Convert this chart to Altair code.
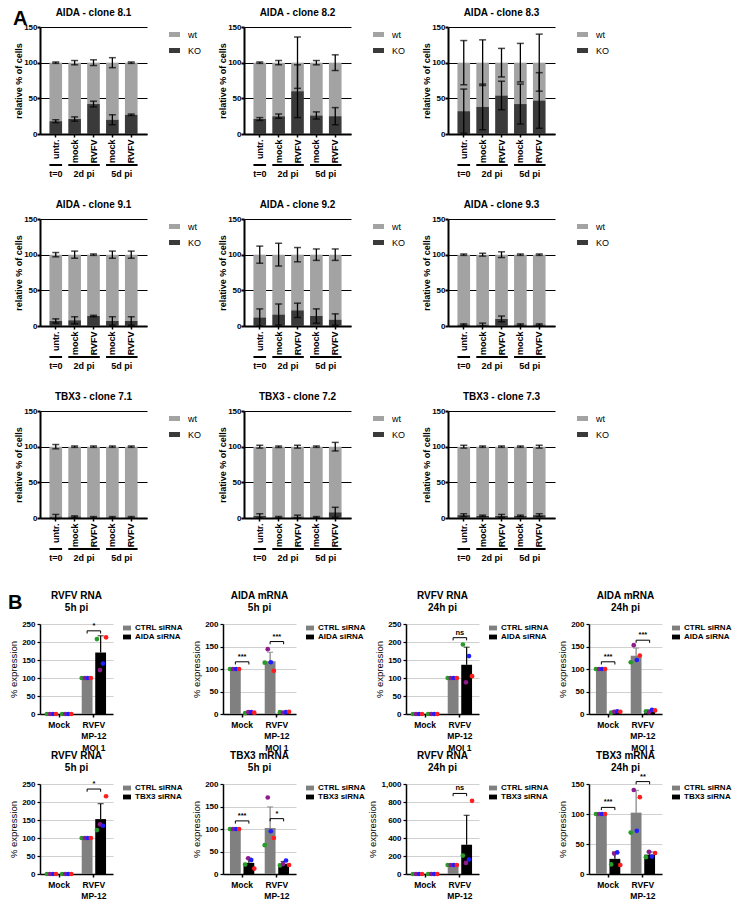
import altair as alt
import pandas as pd

FONT = "Liberation Sans"
WT_COLOR = "#a3a3a3"
KO_COLOR = "#3a3a3a"
CTRL_COLOR = "#808080"
KD_COLOR = "#000000"

# ---------------- Panel A data ----------------
A_titles = ["AIDA - clone 8.1", "AIDA - clone 8.2", "AIDA - clone 8.3",
            "AIDA - clone 9.1", "AIDA - clone 9.2", "AIDA - clone 9.3",
            "TBX3 - clone 7.1", "TBX3 - clone 7.2", "TBX3 - clone 7.3"]
A_conditions = ["untr.", "mock", "RVFV", "mock", "RVFV"]
A_timepoints = ["0", "2", "2", "5", "5"]
A_groups = ["t=0", "2d pi", "5d pi"]
A_group_first = ["untr._0", "mock_2", "mock_5"]
A_group_last = ["untr._0", "RVFV_2", "RVFV_5"]
A_group_size = [1, 2, 2]
A_ko_mean = [
    [18, 21, 42, 20, 27],
    [21, 25, 60, 26, 25],
    [32, 38, 54, 42, 47],
    [7, 8, 14, 7, 7],
    [12, 16, 22, 14, 9],
    [2, 2, 10, 2, 2],
    [2, 2, 1, 1, 1],
    [3, 1, 2, 1, 8],
    [4, 3, 3, 3, 4],
]
A_ko_err = [
    [2, 3, 4, 7, 1],
    [2, 3, 37, 5, 12],
    [31, 32, 20, 28, 39],
    [3, 5, 1, 6, 6],
    [12, 15, 10, 10, 8],
    [1, 2, 4, 1, 1],
    [3, 1, 1, 1, 1],
    [3, 1, 2, 1, 7],
    [2, 1, 2, 1, 2],
]
A_wt_err = [
    [1, 3, 4, 7, 1],
    [1, 3, 36, 3, 11],
    [31, 32, 20, 27, 40],
    [3, 5, 1, 5, 5],
    [12, 16, 10, 8, 8],
    [1, 2, 4, 1, 1],
    [3, 1, 1, 1, 1],
    [2, 1, 2, 1, 6],
    [2, 1, 1, 1, 2],
]

# ---------------- Panel B data ----------------
B_titles = [["RVFV RNA", "5h pi"], ["AIDA mRNA", "5h pi"], ["RVFV RNA", "24h pi"], ["AIDA mRNA", "24h pi"],
            ["RVFV RNA", "5h pi"], ["TBX3 mRNA", "5h pi"], ["RVFV RNA", "24h pi"], ["TBX3 mRNA", "24h pi"]]
B_kd_names = ["AIDA siRNA"] * 4 + ["TBX3 siRNA"] * 4
B_ymax = [250, 200, 250, 200, 250, 200, 1000, 150]
B_ystep = [50, 50, 50, 50, 50, 50, 200, 50]
B_groups = ["Mock", "RVFV|MP-12|MOI 1"]
B_reps = ["green", "purple", "blue", "red"]
B_rep_colors = ["#2a9a2a", "#8e1b8e", "#1e1eff", "#ff1e1e"]
B_mock_ctrl = [[0, 0, 0, 0], [100, 100, 100, 100], [0, 0, 0, 0], [100, 100, 100, 100],
               [0, 0, 0, 0], [100, 100, 100, 100], [0, 0, 0, 0], [100, 100, 100, 100]]
B_mock_kd = [[0, 0, 0, 0], [2, 4, 4, 3], [0, 0, 0, 0], [3, 5, 6, 5],
             [0, 0, 0, 0], [21, 35, 31, 12], [0, 0, 0, 0], [16, 34, 36, 15]]
B_rvfv_ctrl = [[100, 100, 100, 100], [114, 144, 115, 96], [100, 100, 100, 100], [115, 153, 120, 130],
               [100, 100, 100, 100], [64, 170, 95, 80], [100, 100, 100, 100], [69, 140, 72, 128]]
B_rvfv_kd = [[208, 122, 140, 213], [4, 3, 4, 5], [193, 88, 161, 105], [6, 4, 9, 8],
             [122, 138, 134, 216], [19, 22, 30, 20], [205, 123, 160, 813], [28, 37, 29, 35]]
B_sig_groups = [["RVFV"], ["Mock", "RVFV"], ["RVFV"], ["Mock", "RVFV"],
                ["RVFV"], ["Mock", "RVFV"], ["RVFV"], ["Mock", "RVFV"]]
B_sig_y = [[231], [116, 161], [212], [116, 164], [236], [118, 123], [895], [111, 154]]
B_sig_text = [["*"], ["***", "***"], ["ns"], ["***", "***"], ["*"], ["***", "*"], ["ns"], ["***", "**"]]

# ---------------- Panel A charts ----------------
AW, AH = 107, 107
A_PI, A_PO = 0.33, 0.5
A_ids = [c + "_" + t for c, t in zip(A_conditions, A_timepoints)]
A_STEP = AW / (len(A_ids) - A_PI + 2 * A_PO)
A_PAIR_DX = A_STEP * A_PI / 2
A_SYMBOL = "M-1,-0.45H1V0.45H-1Z"
B_SYMBOL = "M-1,-0.6H1V0.6H-1Z"

A_XAXIS = alt.Axis(labelAngle=-90, labelExpr="split(datum.value, '_')[0]", labelFontSize=9,
                   labelFontWeight="bold", labelColor="black", labelPadding=2, labelOverlap=False,
                   tickSize=3, tickWidth=1.5, tickColor="black", domainColor="black", domainWidth=2,
                   grid=False, title=None)
A_YAXIS = alt.Axis(values=[0, 50, 100, 150], grid=True, gridColor="black", gridWidth=1,
                   domainColor="black", domainWidth=2, tickColor="black", tickWidth=2, tickSize=3,
                   labelFontSize=8, labelFontWeight="bold", labelColor="black", labelPadding=0,
                   title="relative % of cells", titleFontSize=9, titleFontWeight="bold",
                   titleColor="black", titlePadding=0)


def a_x(field, bp=None):
    kw = {}
    if bp is not None:
        kw["bandPosition"] = bp
    return alt.X(f"{field}:N", scale=alt.Scale(domain=A_ids, paddingInner=A_PI, paddingOuter=A_PO),
                 axis=A_XAXIS, **kw)


def a_y(field):
    return alt.Y(f"{field}:Q", scale=alt.Scale(domain=[0, 150], nice=False), axis=A_YAXIS)


def text_layer(text, x, y, size, align="center", baseline="top", weight="bold"):
    return alt.Chart(pd.DataFrame({"t": [text]})).mark_text(
        fontSize=size, fontWeight=weight, align=align, baseline=baseline, color="black").encode(
        x=alt.value(x), y=alt.value(y), text="t:N")


def a_panel(k, letter=None):
    ko = A_ko_mean[k]
    df = pd.DataFrame({
        "cond": A_ids * 2,
        "type": ["wt"] * 5 + ["KO"] * 5,
        "value": [100 - v for v in ko] + ko,
        "stack_order": [1] * 5 + [0] * 5,
    })
    bars = alt.Chart(df).mark_bar().encode(
        x=a_x("cond"),
        y=alt.Y("value:Q", stack="zero", scale=alt.Scale(domain=[0, 150], nice=False), axis=A_YAXIS),
        color=alt.Color("type:N", scale=alt.Scale(domain=["wt", "KO"], range=[WT_COLOR, KO_COLOR]),
                        legend=alt.Legend(title=None, orient="right", offset=20, symbolType=A_SYMBOL,
                                          symbolSize=121, symbolStrokeWidth=0, labelFontSize=9,
                                          labelColor="black", rowPadding=5, padding=2, labelOffset=8)),
        order=alt.Order("stack_order:Q"),
    )
    edf = pd.DataFrame({"cond": A_ids * 2, "center": ko + [100] * 5,
                        "err": A_ko_err[k] + A_wt_err[k]})
    eb = alt.Chart(edf).transform_calculate(lo="datum.center - datum.err", hi="datum.center + datum.err")
    erule = eb.mark_rule(color="black", strokeWidth=1.3).encode(x=a_x("cond"), y=a_y("lo"), y2="hi:Q")
    cap_lo = eb.mark_tick(color="black", thickness=1.5, size=7).encode(x=a_x("cond"), y=a_y("lo"))
    cap_hi = eb.mark_tick(color="black", thickness=1.5, size=7).encode(x=a_x("cond"), y=a_y("hi"))

    gdf = pd.DataFrame({"group": A_groups, "first": A_group_first, "last": A_group_last, "n": A_group_size})
    glines = alt.Chart(gdf).mark_rule(color="black", strokeWidth=2).encode(
        x=a_x("first", 0), x2=alt.X2("last", bandPosition=1), y=alt.value(AH + 31))
    gl1 = alt.Chart(gdf).transform_filter("datum.n == 1").mark_text(
        fontSize=9, fontWeight="bold", color="black", baseline="middle").encode(
        x=a_x("first", 0.5), y=alt.value(AH + 40), text="group:N")
    gl2 = alt.Chart(gdf).transform_filter("datum.n == 2").mark_text(
        fontSize=9, fontWeight="bold", color="black", baseline="middle", dx=A_PAIR_DX).encode(
        x=a_x("first", 1), y=alt.value(AH + 40), text="group:N")
    layers = [bars, erule, cap_lo, cap_hi, glines, gl1, gl2, text_layer(A_titles[k], AW / 2, -19, 10)]
    if letter:
        layers.append(text_layer(letter, -27, -18, 20, align="left"))
    return alt.layer(*layers).properties(width=AW, height=AH)


# ---------------- Panel B charts ----------------
BW, BH = 73, 90
B_PI, B_PO, B_OFF_PI = 0.3, 0.2, 0.2
C_POS = (1 - B_OFF_PI) / 2 / (2 - B_OFF_PI)
K_POS = (1 + (1 - B_OFF_PI) / 2) / (2 - B_OFF_PI)
B_XAXIS = alt.Axis(labelAngle=0, labelExpr="split(datum.value, '|')", labelFontSize=8.5,
                   labelFontWeight="bold", labelColor="black", labelLineHeight=11.5, labelBaseline="top",
                   labelOverlap=False, labelPadding=3, tickSize=3, tickColor="black", tickWidth=1.5,
                   domainColor="black", domainWidth=1.5, grid=False, title=None)


def b_x(field, bp=None):
    kw = {}
    if bp is not None:
        kw["bandPosition"] = bp
    return alt.X(f"{field}:N", scale=alt.Scale(domain=B_groups, paddingInner=B_PI, paddingOuter=B_PO),
                 axis=B_XAXIS, **kw)


def b_panel(k, letter=None):
    kd = B_kd_names[k]
    ymax = B_ymax[k]
    yaxis = alt.Axis(values=list(range(0, ymax + 1, B_ystep[k])), grid=True, gridColor="#d0d0d0",
                     gridWidth=1, domainColor="black", domainWidth=1.5, tickColor="black", tickSize=3,
                     tickWidth=1.2, labelFontSize=8, labelFontWeight="bold", labelColor="black",
                     labelPadding=2, title="% expression", titleFontSize=9.5, titleFontWeight="normal",
                     titleColor="black", titlePadding=3)

    def b_y(field):
        return alt.Y(f"{field}:Q", scale=alt.Scale(domain=[0, ymax], nice=False), axis=yaxis)

    rows = []
    for g, s, vals in [(B_groups[0], "CTRL siRNA", B_mock_ctrl[k]), (B_groups[0], kd, B_mock_kd[k]),
                       (B_groups[1], "CTRL siRNA", B_rvfv_ctrl[k]), (B_groups[1], kd, B_rvfv_kd[k])]:
        for r, v in zip(B_reps, vals):
            rows.append({"group": g, "sirna": s, "rep": r,
                         "slot": ("C|" if s == "CTRL siRNA" else "K|") + r, "value": v})
    df = pd.DataFrame(rows)
    slots = ["C|" + r for r in B_reps] + ["gap"] + ["K|" + r for r in B_reps]
    xoff = alt.XOffset("sirna:N", scale=alt.Scale(domain=["CTRL siRNA", kd], paddingInner=B_OFF_PI,
                                                  paddingOuter=0))

    bars = alt.Chart(df).transform_aggregate(mean="mean(value)", groupby=["group", "sirna"]).mark_bar().encode(
        x=b_x("group"), xOffset=xoff, y=b_y("mean"),
        color=alt.Color("sirna:N", scale=alt.Scale(domain=["CTRL siRNA", kd], range=[CTRL_COLOR, KD_COLOR]),
                        legend=alt.Legend(title=None, orient="right", offset=10, symbolType=B_SYMBOL,
                                          symbolSize=64, symbolStrokeWidth=0, labelFontSize=8,
                                          labelFontWeight="bold", labelColor="black", rowPadding=1,
                                          padding=0, labelOffset=4)))
    eb = alt.Chart(df).transform_aggregate(mean="mean(value)", sd="stdev(value)",
                                           groupby=["group", "sirna"]).transform_calculate(
        top="datum.mean + datum.sd")
    elayers = []
    for s, col in [("CTRL siRNA", CTRL_COLOR), (kd, KD_COLOR)]:
        f = eb.transform_filter(alt.datum.sirna == s)
        elayers.append(f.mark_rule(color=col, strokeWidth=1.2).encode(
            x=b_x("group"), xOffset=xoff, y=b_y("mean"), y2="top:Q"))
        elayers.append(f.mark_tick(color=col, thickness=1.2, size=6).encode(
            x=b_x("group"), xOffset=xoff, y=b_y("top")))
    dots = alt.Chart(df).mark_circle(size=22, opacity=1).encode(
        x=b_x("group"),
        xOffset=alt.XOffset("slot:N", scale=alt.Scale(domain=slots, paddingInner=0, paddingOuter=0)),
        y=b_y("value"),
        fill=alt.Fill("rep:N", scale=alt.Scale(domain=B_reps, range=B_rep_colors), legend=None))

    sdf = pd.DataFrame({"group": [B_groups[0] if g == "Mock" else B_groups[1] for g in B_sig_groups[k]],
                        "y": B_sig_y[k], "label": B_sig_text[k]})
    sb = alt.Chart(sdf).transform_calculate(yl=f"datum.y - {ymax * 0.03}")
    hline = sb.mark_rule(color="black", strokeWidth=1).encode(
        x=b_x("group", C_POS), x2=alt.X2("group", bandPosition=K_POS), y=b_y("y"))
    legl = sb.mark_rule(color="black", strokeWidth=1).encode(x=b_x("group", C_POS), y=b_y("y"), y2="yl:Q")
    legr = sb.mark_rule(color="black", strokeWidth=1).encode(x=b_x("group", K_POS), y=b_y("y"), y2="yl:Q")
    stext = sb.mark_text(fontSize=7.5, fontWeight="bold", baseline="bottom", dy=-1, color="black").encode(
        x=b_x("group", 0.5), y=b_y("y"), text="label:N")

    layers = [bars] + elayers + [dots, hline, legl, legr, stext,
                                 text_layer(B_titles[k][0], BW / 2, -33, 10),
                                 text_layer(B_titles[k][1], BW / 2, -21, 10)]
    if letter:
        layers.append(text_layer(letter, -32, -31, 20, align="left"))
    return alt.layer(*layers).resolve_scale(xOffset="independent").properties(width=BW, height=BH)


rowsA = [alt.hconcat(*[a_panel(3 * r + c, "A" if (r == 0 and c == 0) else None) for c in range(3)],
                     spacing=97, bounds="flush").resolve_scale(color="independent")
         for r in range(3)]
blockA = alt.vconcat(*rowsA, spacing=21).resolve_scale(color="independent")
rowsB = [alt.hconcat(*[b_panel(4 * r + c, "B" if (r == 0 and c == 0) else None) for c in range(4)],
                     spacing=110, bounds="flush").resolve_scale(color="independent", fill="independent")
         for r in range(2)]
blockB = alt.vconcat(*rowsB, spacing=-1).resolve_scale(color="independent", fill="independent")

chart = alt.vconcat(blockA, blockB, spacing=28).resolve_scale(
    color="independent", fill="independent").properties(padding=0).configure(
    font=FONT).configure_view(stroke=None)

chart.save("out.html", embed_options={"renderer": "svg", "actions": False})
